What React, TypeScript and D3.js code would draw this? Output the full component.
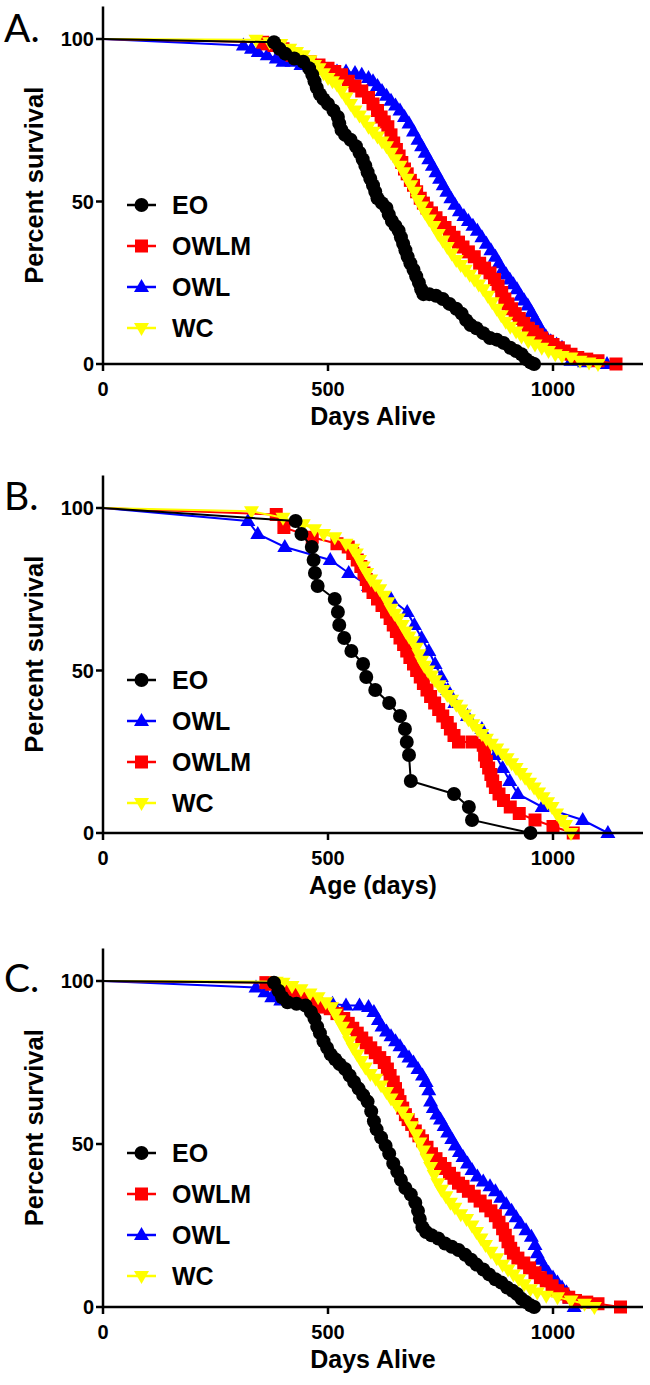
import React from 'react';
import * as d3 from 'd3';

type Pt = [number, number];

// ---------- Panel A (Days Alive) ----------
const eoA: Pt[] = [[0,100],[380,99],[392,97],[405,95.5],[425,94],[445,93],[458,91],[465,89],[470,87],[475,85],[482,83],[490,81.5],[500,80],[512,78],[522,76],[525,74],[530,72],[538,70.5],[550,69],[562,67],[570,65],[577,63],[583,61],[588,59],[594,57],[600,55],[605,53],[610,51],[620,49.5],[630,48],[635,46],[642,44],[650,42.5],[657,41],[662,39],[667,37],[672,35],[677,33],[683,31],[690,29],[696,27],[702,25],[707,23],[712,21.5],[725,21.5],[740,21],[755,20],[770,18.5],[785,17],[797,15.5],[807,13.5],[817,12],[830,11],[845,9.5],[860,8],[875,7.5],[890,6.5],[905,5],[918,4],[930,3],[940,1.5],[950,0.5],[958,0]];
const owlmA: Pt[] = [[0,100],[355,99],[365,98.5],[380,98],[400,97],[420,95],[440,94],[460,93],[480,92],[500,91],[515,90],[530,89],[545,87],[560,85.5],[575,84],[590,82],[600,80],[610,78],[618,76],[625,74.5],[633,73],[640,70.5],[646,68],[652,66],[658,64],[664,62],[670,60],[676,58.5],[683,56.5],[690,55],[697,53],[705,51],[712,49.5],[720,48],[730,46.5],[740,45],[750,43.5],[760,42],[770,40.5],[780,39],[790,37.5],[800,36],[812,34.5],[825,33],[837,31],[848,29.5],[860,28],[870,26],[878,24],[886,22],[893,20],[900,18.5],[908,17],[916,15.5],[925,14],[935,12.5],[945,11],[955,10],[965,9],[975,8],[988,7],[1000,6],[1012,5],[1025,4],[1040,3],[1055,2],[1075,1.5],[1100,1],[1140,0]];
const owlA: Pt[] = [[0,100],[312,98],[330,97],[345,96],[365,95],[385,94],[400,93],[420,93],[440,92],[460,91.5],[480,91],[500,90.5],[520,90],[540,90],[560,89.5],[575,89],[590,88],[600,87],[610,85.5],[620,84],[630,82.5],[640,81],[650,79.5],[660,78],[670,76],[680,74],[690,71.5],[700,69],[708,67],[716,65],[724,63],[732,61],[740,59],[748,57],[756,55],[764,53],[773,51],[782,49],[792,47],[802,45.5],[812,44],[822,42.5],[832,41],[842,39],[852,37],[862,35],[872,33],[880,31],[888,29],[896,27.5],[904,26],[912,24.5],[920,23],[928,21],[936,19.5],[944,18],[952,16],[960,14],[968,12],[976,10],[984,8.5],[995,7],[1008,6],[1020,5],[1030,3.5],[1040,1],[1070,0.5],[1120,0]];
const wcA: Pt[] = [[0,100],[340,99.8],[370,99],[395,98.5],[415,97],[430,96],[445,95],[460,93.5],[470,92],[480,91],[490,89.5],[500,88],[510,87],[520,86],[530,84],[540,82],[550,80],[560,78],[570,76.5],[580,75],[590,73],[600,71.5],[610,70],[620,68.5],[630,67],[640,65],[650,63],[660,61],[668,59],[676,57],[684,55],[692,53],[700,50.5],[708,48.5],[716,46.5],[725,44.5],[735,42.5],[745,40],[755,38],[765,36],[775,34],[785,32],[795,30.5],[805,29],[815,27.5],[825,26],[835,24.5],[845,23],[855,21],[865,19],[875,17],[885,15],[895,13],[905,11.5],[918,10],[930,8.5],[945,7],[960,6],[975,5],[990,4],[1005,3],[1020,2.5],[1040,2],[1060,1],[1080,0.5],[1100,0]];

// ---------- Panel B (Age) ----------
const eoB: Pt[] = [[0,100],[428,96],[441,92],[464,88],[468,84],[471,80],[477,76],[515,72],[522,68],[525,64],[536,60],[552,56],[578,52],[585,48],[605,44],[636,40],[660,36],[671,32],[675,28],[680,24],[684,16],[780,12],[813,8],[820,4],[950,0]];
const owlB: Pt[] = [[0,100],[322,96],[344,92],[404,88],[505,84],[546,80],[590,76],[640,72],[676,68],[692,64],[708,60],[724,56],[738,52],[752,48],[766,44],[782,40],[810,36],[842,32],[857,28],[872,24],[888,20],[904,16],[922,12],[976,8],[1066,4],[1122,0]];
const owlmB: Pt[] = [[0,100],[385,98],[402,94],[465,91],[520,89],[545,88],[555,86],[565,84],[573,82],[580,80],[585,78],[590,76],[600,74],[610,72],[620,70],[630,68],[638,66],[645,64],[652,62],[660,60],[668,58],[675,56],[682,54],[690,52],[697,50],[705,48],[712,46],[720,44],[728,42],[737,40],[746,38],[755,36],[765,34],[772,32],[780,30],[790,28],[820,28],[845,27],[848,24],[852,22],[857,20],[862,18],[866,16],[872,14],[880,12],[890,10],[905,8],[925,6],[960,4],[1000,2],[1045,0]];
const wcB: Pt[] = [[0,100],[330,99],[400,97],[445,95],[470,93.5],[490,92],[515,91],[540,89],[555,87.5],[563,86],[570,84],[578,82],[586,80],[595,78],[605,76.5],[615,75],[625,73],[633,71],[640,69],[648,67.5],[656,66],[665,64],[673,62],[680,60.5],[688,59],[696,57],[702,55],[708,53],[714,51.5],[722,50],[730,48.5],[738,47],[747,45.5],[756,44],[765,42.5],[775,41],[785,39.5],[795,38],[803,36.5],[812,35],[822,33.5],[832,32],[842,30.5],[852,29],[863,27.5],[875,26],[887,24.5],[898,23],[908,21.5],[918,20],[928,18.5],[938,17],[948,15.5],[958,14],[968,12.5],[978,11],[988,9.5],[998,8],[1008,6],[1018,4],[1028,2.5],[1040,0]];

// ---------- Panel C (Days Alive) ----------
const eoC: Pt[] = [[0,100],[380,99.5],[390,97],[398,95],[410,93.5],[430,93],[450,92.5],[462,90.5],[470,88.5],[476,86],[482,84],[490,81.5],[498,79.5],[506,77.5],[516,76],[526,74.5],[538,73],[548,71],[558,69],[568,67],[578,65],[588,63],[596,60],[602,57],[608,54.5],[618,52],[628,49.5],[636,47],[645,44],[654,41.5],[662,39],[672,36.5],[684,34.5],[694,32],[700,29.5],[704,27],[710,24.5],[718,23],[730,22],[745,21],[760,19.5],[775,18.5],[790,17.5],[805,16],[818,14.5],[830,13],[845,11.5],[858,10],[872,8.5],[885,7.5],[898,6],[910,5],[920,4],[930,2.5],[940,1.5],[950,0.5],[958,0]];
const owlmC: Pt[] = [[0,100],[362,99.5],[375,99],[395,98],[415,97],[430,96],[445,95],[460,94],[475,93],[490,92],[505,91.5],[520,90],[535,88.5],[545,87],[555,85.5],[565,84],[575,82.5],[585,81],[595,79.5],[605,78],[615,76.5],[625,75],[632,73],[638,71],[645,69],[650,67],[655,65],[660,63],[666,61],[672,59],[678,57.5],[686,56],[694,54],[702,52.5],[710,51],[720,49],[730,47],[740,45.5],[750,44],[760,42.5],[770,41],[780,39.5],[790,38],[800,37],[812,35.5],[825,34],[838,32.5],[850,31],[862,29.5],[872,28],[880,26],[888,24],[894,22],[900,20],[906,18],[912,16.5],[922,15],[935,13.5],[948,12],[960,10.5],[972,9],[985,8],[998,6.5],[1010,5],[1022,4],[1035,3],[1050,2],[1075,1.5],[1100,1],[1150,0]];
const owlC: Pt[] = [[0,100],[340,98],[360,96.5],[375,95],[395,94],[420,93.5],[450,93],[480,93],[510,93],[540,92.5],[570,92.5],[590,92],[602,90.5],[612,88],[620,86],[630,84.5],[640,83],[650,81.5],[660,80],[670,78],[680,76.5],[690,75],[700,73],[710,71],[718,69],[724,66.5],[728,63],[734,61],[742,59],[750,57.5],[758,55.5],[766,53.5],[775,51.5],[783,49.5],[792,47.5],[800,46],[810,44],[820,42],[832,40],[845,38.5],[860,37],[872,35.5],[884,33.5],[896,31.5],[908,29.5],[918,27.5],[928,25.5],[940,23.5],[952,21.5],[960,19],[965,16.5],[972,14.5],[980,12.5],[990,10.5],[1000,9],[1010,7.5],[1020,6],[1030,4.5],[1038,2.5],[1047,0]];
const wcC: Pt[] = [[0,100],[385,99.8],[400,99.5],[420,98.5],[440,97.5],[460,96.2],[478,95],[495,93.5],[508,92],[516,90],[524,88],[532,86],[540,84],[548,81.5],[556,79.5],[565,77.5],[574,75.5],[583,73.5],[594,71.5],[606,70],[618,68],[630,66],[640,64],[652,62],[665,60],[676,58],[686,55.5],[696,53],[704,50.5],[712,48],[720,45.5],[728,43],[736,40.5],[744,38],[752,36],[762,34],[772,32],[782,30.5],[795,28.5],[808,27],[820,25],[830,23],[840,21],[850,19],[862,17],[875,15],[888,13],[900,11.5],[912,10],[924,8.5],[936,7],[950,5.5],[965,4.5],[985,3.5],[1010,3],[1040,2],[1070,1],[1092,0]];

const xTicks = [0, 500, 1000];
const yTicks = [0, 50, 100];
const xDomain: [number, number] = [0, 1200];
const yDomain: [number, number] = [0, 110];

type Group = 'EO' | 'OWLM' | 'OWL' | 'WC';
const groupStyle: Record<Group, { color: string; shape: string }> = {
  EO: { color: '#000000', shape: 'circle' },
  OWLM: { color: '#ff0000', shape: 'square' },
  OWL: { color: '#0000ff', shape: 'triUp' },
  WC: { color: '#ffff00', shape: 'triDown' },
};

interface PanelCfg {
  label: string;
  labelBaseline: number;
  y0: number;
  y100: number;
  xTitle: string;
  legend: Group[];
  legendY: number;
  data: Record<Group, Pt[]>;
}

const panels: PanelCfg[] = [
  { label: 'A.', labelBaseline: 42, y0: 364, y100: 39, xTitle: 'Days Alive', legend: ['EO', 'OWLM', 'OWL', 'WC'], legendY: 205,
    data: { EO: eoA, OWLM: owlmA, OWL: owlA, WC: wcA } },
  { label: 'B.', labelBaseline: 510, y0: 833, y100: 508, xTitle: 'Age (days)', legend: ['EO', 'OWL', 'OWLM', 'WC'], legendY: 680,
    data: { EO: eoB, OWLM: owlmB, OWL: owlB, WC: wcB } },
  { label: 'C.', labelBaseline: 992, y0: 1307, y100: 981, xTitle: 'Days Alive', legend: ['EO', 'OWLM', 'OWL', 'WC'], legendY: 1153,
    data: { EO: eoC, OWLM: owlmC, OWL: owlC, WC: wcC } },
];

const drawOrder: Group[] = ['OWL', 'OWLM', 'WC', 'EO'];
const FONT = "'Liberation Sans', Arial, Helvetica, sans-serif";

function Marker({ shape, cx, cy, color }: { shape: string; cx: number; cy: number; color: string }) {
  if (shape === 'circle') return <circle cx={cx} cy={cy} r={7} fill={color} />;
  if (shape === 'square') return <rect x={cx - 6.5} y={cy - 6.5} width={13} height={13} fill={color} />;
  const s = 15;
  const h = s * 0.866;
  if (shape === 'triUp')
    return <path d={`M${cx},${cy - h * 0.62}L${cx + s / 2},${cy + h * 0.38}L${cx - s / 2},${cy + h * 0.38}Z`} fill={color} />;
  return <path d={`M${cx},${cy + h * 0.62}L${cx + s / 2},${cy - h * 0.38}L${cx - s / 2},${cy - h * 0.38}Z`} fill={color} />;
}

function Panel({ cfg }: { cfg: PanelCfg }) {
  const x = d3.scaleLinear().domain(xDomain).range([103, 643]);
  const y = d3.scaleLinear().domain([0, 100]).range([cfg.y0, cfg.y100]);
  const yTop = y(yDomain[1]);
  const line = d3.line<Pt>().x((d) => x(d[0])).y((d) => y(d[1]));
  const legendStep = 41;
  return (
    <g>
      <text x={4} y={cfg.labelBaseline} fontFamily="Lato, 'Open Sans', sans-serif" fontSize={39} fill="#000">{cfg.label}</text>
      {drawOrder.map((g) => {
        const st = groupStyle[g];
        const pts = cfg.data[g];
        return (
          <g key={g}>
            <path d={line(pts) || ''} fill="none" stroke={st.color} strokeWidth={2} />
            {pts.slice(1).map((p, i) => (
              <Marker key={i} shape={st.shape} cx={x(p[0])} cy={y(p[1])} color={st.color} />
            ))}
          </g>
        );
      })}
      {/* axes */}
      <line x1={x(0)} x2={x(0)} y1={yTop} y2={y(0)} stroke="#000" strokeWidth={2.5} />
      <line x1={x(0)} x2={x(xDomain[1])} y1={y(0)} y2={y(0)} stroke="#000" strokeWidth={2.5} />
      {yTicks.map((t) => (
        <g key={'y' + t}>
          <line x1={x(0) - 7} x2={x(0)} y1={y(t)} y2={y(t)} stroke="#000" strokeWidth={2.5} />
          <text x={x(0) - 9} y={y(t)} dy="0.36em" textAnchor="end" fontFamily={FONT} fontWeight="bold" fontSize={20} fill="#000">{t}</text>
        </g>
      ))}
      {xTicks.map((t) => (
        <g key={'x' + t}>
          <line x1={x(t)} x2={x(t)} y1={y(0)} y2={y(0) + 7} stroke="#000" strokeWidth={2.5} />
          <text x={x(t)} y={y(0) + 32} textAnchor="middle" fontFamily={FONT} fontWeight="bold" fontSize={20} fill="#000">{t}</text>
        </g>
      ))}
      <text x={(x(0) + x(xDomain[1])) / 2} y={y(0) + 61} textAnchor="middle" fontFamily={FONT} fontWeight="bold" fontSize={25} fill="#000">{cfg.xTitle}</text>
      <text transform={`translate(43,${(yTop + y(0)) / 2}) rotate(-90)`} textAnchor="middle" fontFamily={FONT} fontWeight="bold" fontSize={25.5} fill="#000">Percent survival</text>
      {cfg.legend.map((g, i) => {
        const st = groupStyle[g];
        const ly = cfg.legendY + i * legendStep;
        return (
          <g key={'l' + g}>
            <line x1={127} x2={156} y1={ly} y2={ly} stroke={st.color} strokeWidth={2.5} />
            <Marker shape={st.shape} cx={141.5} cy={ly} color={st.color} />
            <text x={172} y={ly} dy="0.36em" fontFamily={FONT} fontWeight="bold" fontSize={25} fill="#000">{g}</text>
          </g>
        );
      })}
    </g>
  );
}

export default function App() {
  return (
    <svg width={650} height={1385} style={{ position: 'absolute', left: 0, top: 0, background: '#fff' }}>
      <rect width={650} height={1385} fill="#fff" />
      {panels.map((p) => (
        <Panel key={p.label} cfg={p} />
      ))}
    </svg>
  );
}
